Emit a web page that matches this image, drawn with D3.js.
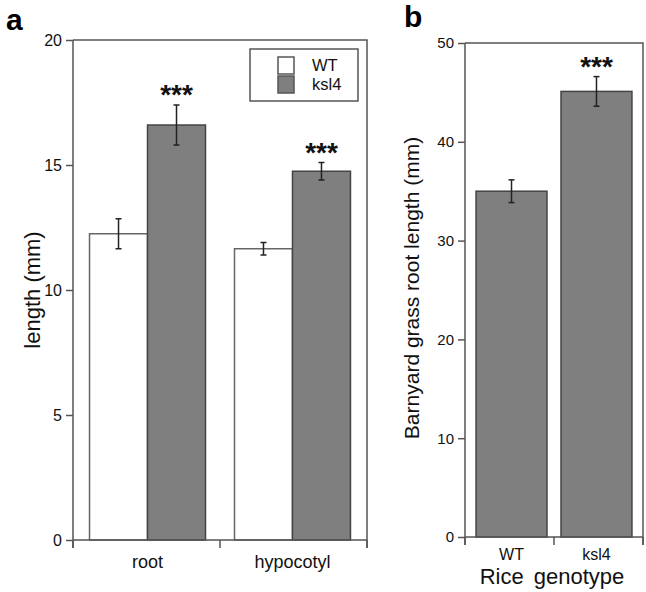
<!DOCTYPE html>
<html>
<head>
<meta charset="utf-8">
<script src="https://cdn.jsdelivr.net/npm/d3@7"></script>
<style>
  body { margin: 0; background: #fff; }
  svg { font-family: "Liberation Sans", Arial, sans-serif; }
</style>
</head>
<body>
<svg id="fig" width="646" height="592"></svg>
<script>
// panel a data
const groupsA = ["root", "hypocotyl"];
const seriesA = ["WT", "ksl4"];
const meanA = { WT: [12.25, 11.65], ksl4: [16.6, 14.75] };
const errA = { WT: [0.6, 0.25], ksl4: [0.8, 0.35] };
const sigA = ["***", "***"];
const ticksA = [0, 5, 10, 15, 20];

// panel b data
const catsB = ["WT", "ksl4"];
const meanB = [35.0, 45.1];
const errB = [1.15, 1.5];
const sigB = ["", "***"];
const ticksB = [0, 10, 20, 30, 40, 50];

const fillOf = { WT: "#ffffff", ksl4: "#7f7f7f" };
const AXIS = "#555";

const svg = d3.select("#fig");

/* ---------------- panel a ---------------- */
const A = { left: 73, right: 367, top: 40, bottom: 540 };
const yA = d3.scaleLinear().domain([0, 20]).range([A.bottom, A.top]);
const xA = d3.scaleBand().domain(groupsA).range([A.left, A.right]).paddingInner(0.2).paddingOuter(0.114);
const xSubA = d3.scaleBand().domain(seriesA).range([0, xA.bandwidth()]);

const gA = svg.append("g");

// frame (top + right)
gA.append("path")
  .attr("d", `M${A.left},${A.top}H${A.right}V${A.bottom + 8}`)
  .attr("fill", "none").attr("stroke", AXIS).attr("stroke-width", 1.5);

const rowsA = [];
groupsA.forEach((g, i) => seriesA.forEach(s => rowsA.push({ g, s, v: meanA[s][i], e: errA[s][i] })));

gA.selectAll("rect.bar").data(rowsA).join("rect")
  .attr("class", "bar")
  .attr("x", d => xA(d.g) + xSubA(d.s))
  .attr("width", xSubA.bandwidth())
  .attr("y", d => yA(d.v))
  .attr("height", d => yA(0) - yA(d.v))
  .attr("fill", d => fillOf[d.s])
  .attr("stroke", d => d.s === "WT" ? "#666" : "#444")
  .attr("stroke-width", 1.5);

const errG = gA.selectAll("g.err").data(rowsA).join("g").attr("class", "err")
  .attr("transform", d => `translate(${xA(d.g) + xSubA(d.s) + xSubA.bandwidth() / 2},0)`);
errG.append("line").attr("y1", d => yA(d.v + d.e)).attr("y2", d => yA(d.v - d.e));
errG.append("line").attr("x1", -3).attr("x2", 3).attr("y1", d => yA(d.v + d.e)).attr("y2", d => yA(d.v + d.e));
errG.append("line").attr("x1", -3).attr("x2", 3).attr("y1", d => yA(d.v - d.e)).attr("y2", d => yA(d.v - d.e));
errG.selectAll("line").attr("stroke", "#222").attr("stroke-width", 1.5);

gA.selectAll("text.sig").data(groupsA).join("text")
  .attr("class", "sig")
  .attr("x", g => xA(g) + xSubA("ksl4") + xSubA.bandwidth() / 2)
  .attr("y", (g, i) => yA(meanA.ksl4[i] + errA.ksl4[i]) - 1)
  .attr("text-anchor", "middle").attr("font-size", 28).attr("font-weight", "bold")
  .attr("fill", "#111")
  .text((g, i) => sigA[i]);

// y axis
const yAxA = gA.append("g").attr("transform", `translate(${A.left},0)`)
  .call(d3.axisLeft(yA).tickValues(ticksA).tickSize(7).tickPadding(4).tickSizeOuter(0));
yAxA.select(".domain").attr("d", `M0,${A.top}V${A.bottom + 8}`);
yAxA.selectAll("line, .domain").attr("stroke", AXIS).attr("stroke-width", 1.5);
yAxA.selectAll("text").attr("font-size", 16).attr("fill", "#111");

// x axis with boundary ticks
const xAxA = gA.append("g").attr("transform", `translate(0,${A.bottom})`);
xAxA.append("line").attr("x1", A.left).attr("x2", A.right).attr("stroke", AXIS).attr("stroke-width", 1.5);
const bndA = [A.left, (xA(groupsA[0]) + xA.bandwidth() + xA(groupsA[1])) / 2, A.right];
xAxA.selectAll("line.tk").data(bndA).join("line").attr("class", "tk")
  .attr("x1", d => d).attr("x2", d => d).attr("y1", 0).attr("y2", 8)
  .attr("stroke", AXIS).attr("stroke-width", 1.5);
xAxA.selectAll("text").data(groupsA).join("text")
  .attr("x", g => xA(g) + xA.bandwidth() / 2).attr("y", 28)
  .attr("text-anchor", "middle").attr("font-size", 18).attr("fill", "#111")
  .text(g => g);

gA.append("text")
  .attr("transform", `translate(40,${(A.top + A.bottom) / 2}) rotate(-90)`)
  .attr("text-anchor", "middle").attr("font-size", 22).attr("fill", "#111")
  .text("length (mm)");

// legend
const leg = gA.append("g").attr("transform", "translate(250,49)");
leg.append("rect").attr("width", 108).attr("height", 52)
  .attr("fill", "#fff").attr("stroke", AXIS).attr("stroke-width", 1.5);
leg.selectAll("rect.sw").data(seriesA).join("rect").attr("class", "sw")
  .attr("x", 28).attr("y", (d, i) => 8 + i * 19).attr("width", 16).attr("height", 17)
  .attr("fill", d => fillOf[d]).attr("stroke", "#555").attr("stroke-width", 1.5);
leg.selectAll("text").data(seriesA).join("text")
  .attr("x", 62).attr("y", (d, i) => 22 + i * 19)
  .attr("font-size", 16.5).attr("fill", "#111").text(d => d);

svg.append("text").attr("x", 6).attr("y", 30).attr("font-size", 30).attr("font-weight", "bold").text("a");

/* ---------------- panel b ---------------- */
const B = { left: 465, right: 643, top: 43, bottom: 537 };
const yB = d3.scaleLinear().domain([0, 50]).range([B.bottom, B.top]);
const xB = d3.scaleBand().domain(catsB).range([B.left, B.right]).paddingInner(0.165).paddingOuter(0.13);

const gB = svg.append("g");
gB.append("path")
  .attr("d", `M${B.left},${B.top}H${B.right}V${B.bottom + 8}`)
  .attr("fill", "none").attr("stroke", AXIS).attr("stroke-width", 1.5);

const rowsB = catsB.map((c, i) => ({ c, v: meanB[i], e: errB[i], s: sigB[i] }));
gB.selectAll("rect.bar").data(rowsB).join("rect")
  .attr("class", "bar")
  .attr("x", d => xB(d.c)).attr("width", xB.bandwidth())
  .attr("y", d => yB(d.v)).attr("height", d => yB(0) - yB(d.v))
  .attr("fill", "#7f7f7f").attr("stroke", "#444").attr("stroke-width", 1.5);

const errB2 = gB.selectAll("g.err").data(rowsB).join("g").attr("class", "err")
  .attr("transform", d => `translate(${xB(d.c) + xB.bandwidth() / 2},0)`);
errB2.append("line").attr("y1", d => yB(d.v + d.e)).attr("y2", d => yB(d.v - d.e));
errB2.append("line").attr("x1", -3).attr("x2", 3).attr("y1", d => yB(d.v + d.e)).attr("y2", d => yB(d.v + d.e));
errB2.append("line").attr("x1", -3).attr("x2", 3).attr("y1", d => yB(d.v - d.e)).attr("y2", d => yB(d.v - d.e));
errB2.selectAll("line").attr("stroke", "#222").attr("stroke-width", 1.5);

gB.selectAll("text.sig").data(rowsB).join("text").attr("class", "sig")
  .attr("x", d => xB(d.c) + xB.bandwidth() / 2)
  .attr("y", d => yB(d.v + d.e) - 1)
  .attr("text-anchor", "middle").attr("font-size", 28).attr("font-weight", "bold")
  .attr("fill", "#111")
  .text(d => d.s);

const yAxB = gB.append("g").attr("transform", `translate(${B.left},0)`)
  .call(d3.axisLeft(yB).tickValues(ticksB).tickSize(7).tickPadding(4).tickSizeOuter(0));
yAxB.select(".domain").attr("d", `M0,${B.top}V${B.bottom + 8}`);
yAxB.selectAll("line, .domain").attr("stroke", AXIS).attr("stroke-width", 1.5);
yAxB.selectAll("text").attr("font-size", 15).attr("fill", "#111");

const xAxB = gB.append("g").attr("transform", `translate(0,${B.bottom})`);
xAxB.append("line").attr("x1", B.left).attr("x2", B.right).attr("stroke", AXIS).attr("stroke-width", 1.5);
const bndB = [B.left, (xB(catsB[0]) + xB.bandwidth() + xB(catsB[1])) / 2, B.right];
xAxB.selectAll("line.tk").data(bndB).join("line").attr("class", "tk")
  .attr("x1", d => d).attr("x2", d => d).attr("y1", 0).attr("y2", 8)
  .attr("stroke", AXIS).attr("stroke-width", 1.5);
xAxB.selectAll("text").data(catsB).join("text")
  .attr("x", c => xB(c) + xB.bandwidth() / 2).attr("y", 23)
  .attr("text-anchor", "middle").attr("font-size", 16).attr("fill", "#111")
  .text(c => c);

gB.append("text")
  .attr("x", (B.left + B.right) / 2 - 2).attr("y", 584)
  .attr("text-anchor", "middle").attr("font-size", 22).attr("fill", "#111")
  .attr("word-spacing", 4)
  .text("Rice genotype");

gB.append("text")
  .attr("transform", `translate(419,${(B.top + B.bottom) / 2 - 2}) rotate(-90)`)
  .attr("text-anchor", "middle").attr("font-size", 21).attr("fill", "#111")
  .text("Barnyard grass root length (mm)");

svg.append("text").attr("x", 404).attr("y", 27).attr("font-size", 30).attr("font-weight", "bold").text("b");
</script>
</body>
</html>
